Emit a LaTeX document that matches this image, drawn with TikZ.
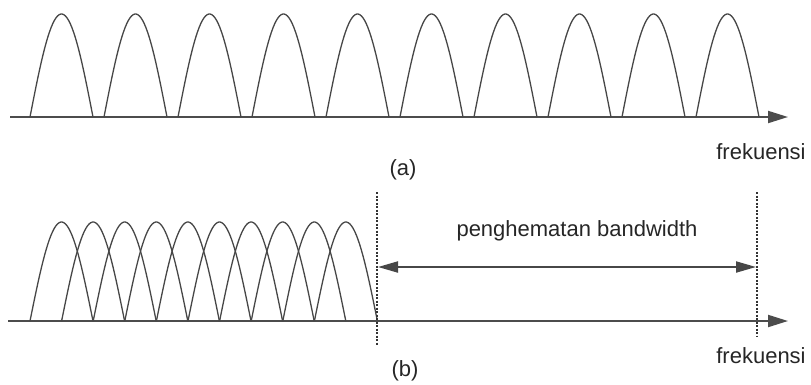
\documentclass[tikz,border=0pt]{standalone}
\usepackage{fontspec}
\setmainfont{Liberation Sans}
\usetikzlibrary{arrows.meta}
\begin{document}
\begin{tikzpicture}[x=1pt,y=-1pt,
  arch/.style={draw=black!72, line width=1.3pt},
  axis/.style={draw=black!70, line width=2pt, -{Triangle[length=20pt,width=12pt]}},
  dimline/.style={draw=black!72, line width=2pt, {Triangle[length=20pt,width=11pt]}-{Triangle[length=20pt,width=11pt]}},
  dashline/.style={draw=black!80, line width=1.2pt, dash pattern=on 2pt off 1.5pt},
  lbl/.style={font=\fontsize{22}{26}\selectfont, text=black!85, inner sep=0pt}]
\useasboundingbox (0,0) rectangle (811,384);
% (a)
\coordinate (a0) at (10,117);
\coordinate (a1) at (788,117);
\draw[axis] (a0) -- (a1);
\foreach \i in {0,...,9} {
  \draw[arch] plot[domain=0:1,samples=40,variable=\t] ({30+74*\i+63*\t},{117-103*sin(180*\t)});
}
\node[lbl] (fa) at (761,152) {frekuensi};
\node[lbl] (la) at (403,170) {(a)};
% (b)
\coordinate (b0) at (8,321);
\coordinate (b1) at (788,321);
\draw[axis] (b0) -- (b1);
\foreach \i in {0,...,9} {
  \draw[arch] plot[domain=0:1,samples=40,variable=\t] ({30+31.6*\i+63*\t},{321-99*sin(180*\t)});
}
\coordinate (d1t) at (377,192);
\coordinate (d1b) at (377,345);
\coordinate (d2t) at (757,192);
\coordinate (d2b) at (757,336);
\draw[dashline] (d1t) -- (d1b);
\draw[dashline] (d2t) -- (d2b);
\coordinate (m1) at (378,267);
\coordinate (m2) at (756,267);
\draw[dimline] (m1) -- (m2);
\node[lbl] (pb) at (577,231) {penghematan bandwidth};
\node[lbl] (fb) at (761,356) {frekuensi};
\node[lbl] (lb) at (405,371) {(b)};
\end{tikzpicture}
\end{document}
